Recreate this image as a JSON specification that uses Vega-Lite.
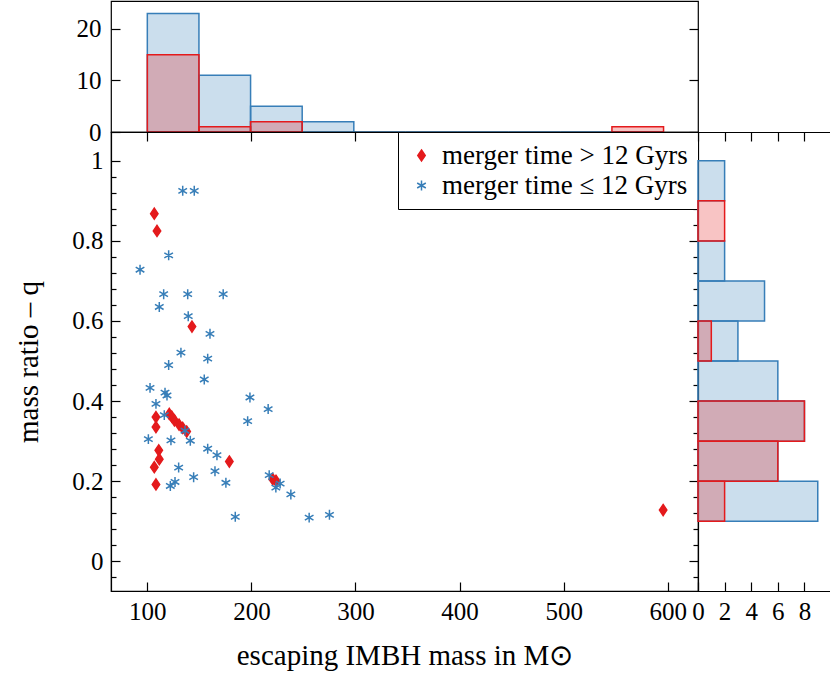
{
  "$schema": "https://vega.github.io/schema/vega-lite/v6.json",
  "background": "white",
  "padding": {"left": 14, "top": 0, "right": 0, "bottom": 0},
  "datasets": {
    "points": [
      {"mass": 106.7, "q": 0.868, "series": "gt"},
      {"mass": 109.3, "q": 0.825, "series": "gt"},
      {"mass": 142.9, "q": 0.586, "series": "gt"},
      {"mass": 108.3, "q": 0.360, "series": "gt"},
      {"mass": 108.3, "q": 0.335, "series": "gt"},
      {"mass": 121.1, "q": 0.368, "series": "gt"},
      {"mass": 123.5, "q": 0.361, "series": "gt"},
      {"mass": 126.0, "q": 0.352, "series": "gt"},
      {"mass": 130.5, "q": 0.341, "series": "gt"},
      {"mass": 134.0, "q": 0.333, "series": "gt"},
      {"mass": 137.8, "q": 0.324, "series": "gt"},
      {"mass": 111.0, "q": 0.277, "series": "gt"},
      {"mass": 111.5, "q": 0.255, "series": "gt"},
      {"mass": 106.7, "q": 0.235, "series": "gt"},
      {"mass": 108.3, "q": 0.192, "series": "gt"},
      {"mass": 178.8, "q": 0.249, "series": "gt"},
      {"mass": 220.5, "q": 0.205, "series": "gt"},
      {"mass": 223.6, "q": 0.201, "series": "gt"},
      {"mass": 595.6, "q": 0.128, "series": "gt"},
      {"mass": 134.0, "q": 0.925, "series": "le"},
      {"mass": 145.1, "q": 0.925, "series": "le"},
      {"mass": 120.5, "q": 0.764, "series": "le"},
      {"mass": 93.0, "q": 0.728, "series": "le"},
      {"mass": 115.7, "q": 0.667, "series": "le"},
      {"mass": 138.8, "q": 0.667, "series": "le"},
      {"mass": 172.9, "q": 0.667, "series": "le"},
      {"mass": 111.5, "q": 0.635, "series": "le"},
      {"mass": 139.3, "q": 0.612, "series": "le"},
      {"mass": 160.2, "q": 0.568, "series": "le"},
      {"mass": 132.3, "q": 0.521, "series": "le"},
      {"mass": 158.0, "q": 0.506, "series": "le"},
      {"mass": 120.5, "q": 0.490, "series": "le"},
      {"mass": 154.7, "q": 0.454, "series": "le"},
      {"mass": 102.6, "q": 0.433, "series": "le"},
      {"mass": 117.0, "q": 0.421, "series": "le"},
      {"mass": 118.9, "q": 0.414, "series": "le"},
      {"mass": 198.6, "q": 0.409, "series": "le"},
      {"mass": 108.3, "q": 0.393, "series": "le"},
      {"mass": 216.1, "q": 0.380, "series": "le"},
      {"mass": 116.3, "q": 0.365, "series": "le"},
      {"mass": 196.4, "q": 0.350, "series": "le"},
      {"mass": 136.2, "q": 0.326, "series": "le"},
      {"mass": 101.0, "q": 0.305, "series": "le"},
      {"mass": 122.7, "q": 0.302, "series": "le"},
      {"mass": 141.3, "q": 0.301, "series": "le"},
      {"mass": 158.0, "q": 0.281, "series": "le"},
      {"mass": 166.9, "q": 0.265, "series": "le"},
      {"mass": 130.1, "q": 0.234, "series": "le"},
      {"mass": 165.0, "q": 0.225, "series": "le"},
      {"mass": 144.5, "q": 0.210, "series": "le"},
      {"mass": 217.1, "q": 0.215, "series": "le"},
      {"mass": 175.5, "q": 0.196, "series": "le"},
      {"mass": 126.6, "q": 0.198, "series": "le"},
      {"mass": 122.1, "q": 0.188, "series": "le"},
      {"mass": 227.6, "q": 0.194, "series": "le"},
      {"mass": 223.5, "q": 0.184, "series": "le"},
      {"mass": 237.9, "q": 0.167, "series": "le"},
      {"mass": 184.5, "q": 0.111, "series": "le"},
      {"mass": 255.5, "q": 0.109, "series": "le"},
      {"mass": 275.0, "q": 0.116, "series": "le"}
    ],
    "tophist": [
      {"series": "blue", "lo": 100.0, "hi": 149.6, "count": 23},
      {"series": "blue", "lo": 149.6, "hi": 199.2, "count": 11},
      {"series": "blue", "lo": 199.2, "hi": 248.8, "count": 5},
      {"series": "blue", "lo": 248.8, "hi": 298.4, "count": 2},
      {"series": "blue", "lo": 298.4, "hi": 348.0, "count": 0},
      {"series": "blue", "lo": 348.0, "hi": 397.6, "count": 0},
      {"series": "blue", "lo": 397.6, "hi": 447.2, "count": 0},
      {"series": "blue", "lo": 447.2, "hi": 496.8, "count": 0},
      {"series": "blue", "lo": 496.8, "hi": 546.4, "count": 0},
      {"series": "blue", "lo": 546.4, "hi": 596.0, "count": 0},
      {"series": "red", "lo": 100.0, "hi": 149.6, "count": 15},
      {"series": "red", "lo": 149.6, "hi": 199.2, "count": 1},
      {"series": "red", "lo": 199.2, "hi": 248.8, "count": 2},
      {"series": "red", "lo": 546.4, "hi": 596.0, "count": 1}
    ],
    "righthist": [
      {"series": "blue", "lo": 0.1, "hi": 0.2, "count": 9},
      {"series": "blue", "lo": 0.2, "hi": 0.3, "count": 6},
      {"series": "blue", "lo": 0.3, "hi": 0.4, "count": 8},
      {"series": "blue", "lo": 0.4, "hi": 0.5, "count": 6},
      {"series": "blue", "lo": 0.5, "hi": 0.6, "count": 3},
      {"series": "blue", "lo": 0.6, "hi": 0.7, "count": 5},
      {"series": "blue", "lo": 0.7, "hi": 0.8, "count": 2},
      {"series": "blue", "lo": 0.8, "hi": 0.9, "count": 0},
      {"series": "blue", "lo": 0.9, "hi": 1.0, "count": 2},
      {"series": "red", "lo": 0.1, "hi": 0.2, "count": 2},
      {"series": "red", "lo": 0.2, "hi": 0.3, "count": 6},
      {"series": "red", "lo": 0.3, "hi": 0.4, "count": 8},
      {"series": "red", "lo": 0.5, "hi": 0.6, "count": 1},
      {"series": "red", "lo": 0.8, "hi": 0.9, "count": 2}
    ]
  },
  "spacing": 0,
  "bounds": "flush",
  "resolve": {
    "scale": {"shape": "independent", "fill": "independent", "stroke": "independent"},
    "legend": {"shape": "independent", "fill": "independent", "stroke": "independent"}
  },
  "vconcat": [
    {
      "width": 587,
      "height": 131,
      "data": {"name": "tophist"},
      "layer": [
        {
          "transform": [{"filter": {"field": "series", "equal": "blue"}}],
          "mark": {"type": "bar", "fill": "#377eb8", "fillOpacity": 0.26, "stroke": "#377eb8", "strokeWidth": 1.5},
          "encoding": {
            "x": {"field": "lo", "type": "quantitative", "scale": {"domain": [65.1, 629.1], "nice": false, "zero": false}, "axis": null},
            "x2": {"field": "hi"},
            "y": {"field": "count", "type": "quantitative", "scale": {"domain": [0, 25.4], "nice": false, "zero": false},
                  "axis": {"orient": "left", "values": [0, 10, 20], "tickSize": -9, "labelPadding": 19, "domain": false, "title": null}},
            "y2": {"datum": 0}
          }
        },
        {
          "transform": [{"filter": {"field": "series", "equal": "red"}}],
          "mark": {"type": "bar", "fill": "#e41a1c", "fillOpacity": 0.26, "stroke": "#e41a1c", "strokeWidth": 1.5},
          "encoding": {
            "x": {"field": "lo", "type": "quantitative", "scale": {"domain": [65.1, 629.1], "nice": false, "zero": false}, "axis": null},
            "x2": {"field": "hi"},
            "y": {"field": "count", "type": "quantitative", "scale": {"domain": [0, 25.4], "nice": false, "zero": false},
                  "axis": {"orient": "right", "values": [0, 10, 20], "tickSize": -9, "labels": false, "domain": false, "title": null}},
            "y2": {"datum": 0}
          }
        }
      ],
      "resolve": {"axis": {"y": "independent"}}
    },
    {
      "spacing": 0,
      "bounds": "flush",
      "resolve": {
        "scale": {"shape": "independent", "fill": "independent", "stroke": "independent"},
        "legend": {"shape": "independent", "fill": "independent", "stroke": "independent"}
      },
      "hconcat": [
        {
          "width": 587,
          "height": 459,
          "data": {"name": "points"},
          "layer": [
            {
              "mark": {"type": "point", "size": 144, "strokeWidth": 1.5, "opacity": 1},
              "encoding": {
                "x": {"field": "mass", "type": "quantitative", "scale": {"domain": [65.1, 629.1], "nice": false, "zero": false},
                      "axis": {"orient": "bottom", "values": [100, 200, 300, 400, 500, 600], "tickSize": -9, "labelPadding": 17, "title": "escaping IMBH mass in M⊙", "titlePadding": 17}},
                "y": {"field": "q", "type": "quantitative", "scale": {"domain": [-0.0742, 1.0719], "nice": false, "zero": false},
                      "axis": {"orient": "left", "values": [0, 0.2, 0.4, 0.6, 0.8, 1], "format": "~g", "tickSize": -9, "labelPadding": 17, "title": "mass ratio – q", "titlePadding": 28}},
                "shape": {"field": "series", "type": "nominal",
                          "scale": {"domain": ["gt", "le"], "range": ["M0,-0.92L0.62,0L0,0.92L-0.62,0Z", "M0,-0.83L0,0.83M-0.72,-0.42L0.72,0.42M-0.72,0.42L0.72,-0.42"]},
                          "legend": {"title": null, "orient": "top-right", "labelExpr": "datum.label == 'gt' ? 'merger time > 12 Gyrs' : 'merger time ≤ 12 Gyrs'"}},
                "fill": {"field": "series", "type": "nominal", "scale": {"domain": ["gt", "le"], "range": ["#e41a1c", "transparent"]},
                         "legend": {"title": null, "orient": "top-right", "labelExpr": "datum.label == 'gt' ? 'merger time > 12 Gyrs' : 'merger time ≤ 12 Gyrs'"}},
                "stroke": {"field": "series", "type": "nominal", "scale": {"domain": ["gt", "le"], "range": ["#e41a1c", "#377eb8"]},
                           "legend": {"title": null, "orient": "top-right", "labelExpr": "datum.label == 'gt' ? 'merger time > 12 Gyrs' : 'merger time ≤ 12 Gyrs'"}}
              }
            },
            {
              "mark": {"type": "point", "opacity": 0},
              "encoding": {
                "x": {"field": "mass", "type": "quantitative", "scale": {"domain": [65.1, 629.1], "nice": false, "zero": false},
                      "axis": {"orient": "top", "values": [100, 200, 300, 400, 500, 600], "tickSize": -9, "labels": false, "title": null}},
                "y": {"field": "q", "type": "quantitative", "scale": {"domain": [-0.0742, 1.0719], "nice": false, "zero": false},
                      "axis": {"orient": "right", "values": [0, 0.2, 0.4, 0.6, 0.8, 1], "tickSize": -9, "labels": false, "title": null}}
              }
            },
            {
              "mark": {"type": "point", "opacity": 0},
              "encoding": {
                "x": {"field": "mass", "type": "quantitative", "scale": {"domain": [65.1, 629.1], "nice": false, "zero": false}, "axis": null},
                "y": {"field": "q", "type": "quantitative", "scale": {"domain": [-0.0742, 1.0719], "nice": false, "zero": false},
                      "axis": {"orient": "left", "values": [-0.04, 0.04, 0.08, 0.12, 0.16, 0.24, 0.28, 0.32, 0.36, 0.44, 0.48, 0.52, 0.56, 0.64, 0.68, 0.72, 0.76, 0.84, 0.88, 0.92, 0.96], "tickSize": -5, "labels": false, "domain": false, "title": null}}
              }
            },
            {
              "mark": {"type": "point", "opacity": 0},
              "encoding": {
                "x": {"field": "mass", "type": "quantitative", "scale": {"domain": [65.1, 629.1], "nice": false, "zero": false}, "axis": null},
                "y": {"field": "q", "type": "quantitative", "scale": {"domain": [-0.0742, 1.0719], "nice": false, "zero": false},
                      "axis": {"orient": "right", "values": [-0.04, 0.04, 0.08, 0.12, 0.16, 0.24, 0.28, 0.32, 0.36, 0.44, 0.48, 0.52, 0.56, 0.64, 0.68, 0.72, 0.76, 0.84, 0.88, 0.92, 0.96], "tickSize": -5, "labels": false, "domain": false, "title": null}}
              }
            }
          ],
          "resolve": {"axis": {"x": "independent", "y": "independent"}}
        },
        {
          "width": 132,
          "height": 459,
          "view": {"stroke": null},
          "data": {"name": "righthist"},
          "layer": [
            {
              "transform": [{"filter": {"field": "series", "equal": "blue"}}],
              "mark": {"type": "bar", "fill": "#377eb8", "fillOpacity": 0.26, "stroke": "#377eb8", "strokeWidth": 1.5},
              "encoding": {
                "x": {"field": "count", "type": "quantitative", "scale": {"domain": [0, 9.92], "nice": false, "zero": false},
                      "axis": {"orient": "bottom", "values": [0, 2, 4, 6, 8], "tickSize": -9, "labelPadding": 17, "title": null}},
                "x2": {"datum": 0},
                "y": {"field": "lo", "type": "quantitative", "scale": {"domain": [-0.0742, 1.0719], "nice": false, "zero": false}, "axis": null},
                "y2": {"field": "hi"}
              }
            },
            {
              "transform": [{"filter": {"field": "series", "equal": "red"}}],
              "mark": {"type": "bar", "fill": "#e41a1c", "fillOpacity": 0.26, "stroke": "#e41a1c", "strokeWidth": 1.5},
              "encoding": {
                "x": {"field": "count", "type": "quantitative", "scale": {"domain": [0, 9.92], "nice": false, "zero": false},
                      "axis": {"orient": "top", "values": [0, 2, 4, 6, 8], "tickSize": -9, "labels": false, "title": null}},
                "x2": {"datum": 0},
                "y": {"field": "lo", "type": "quantitative", "scale": {"domain": [-0.0742, 1.0719], "nice": false, "zero": false}, "axis": null},
                "y2": {"field": "hi"}
              }
            }
          ],
          "resolve": {"axis": {"x": "independent"}}
        }
      ]
    }
  ],
  "config": {
    "font": "Liberation Serif",
    "view": {"stroke": "black", "strokeWidth": 1.2},
    "axis": {
      "grid": false,
      "domainColor": "black",
      "domainWidth": 1.2,
      "tickColor": "black",
      "tickWidth": 1.2,
      "labelColor": "black",
      "titleColor": "black",
      "labelFont": "Liberation Serif",
      "titleFont": "Liberation Serif",
      "labelFontSize": 25,
      "titleFontSize": 29,
      "titleFontWeight": "normal",
      "labelFlush": false,
      "labelOverlap": false,
      "labelBound": false
    },
    "legend": {
      "orient": "top-right",
      "offset": 0,
      "padding": 10,
      "strokeColor": "black",
      "fillColor": "white",
      "cornerRadius": 0,
      "labelFont": "Liberation Serif",
      "labelFontSize": 27,
      "labelColor": "black",
      "labelLimit": 400,
      "labelOffset": 7,
      "rowPadding": 2,
      "symbolSize": 144,
      "symbolStrokeWidth": 1.5
    }
  }
}
